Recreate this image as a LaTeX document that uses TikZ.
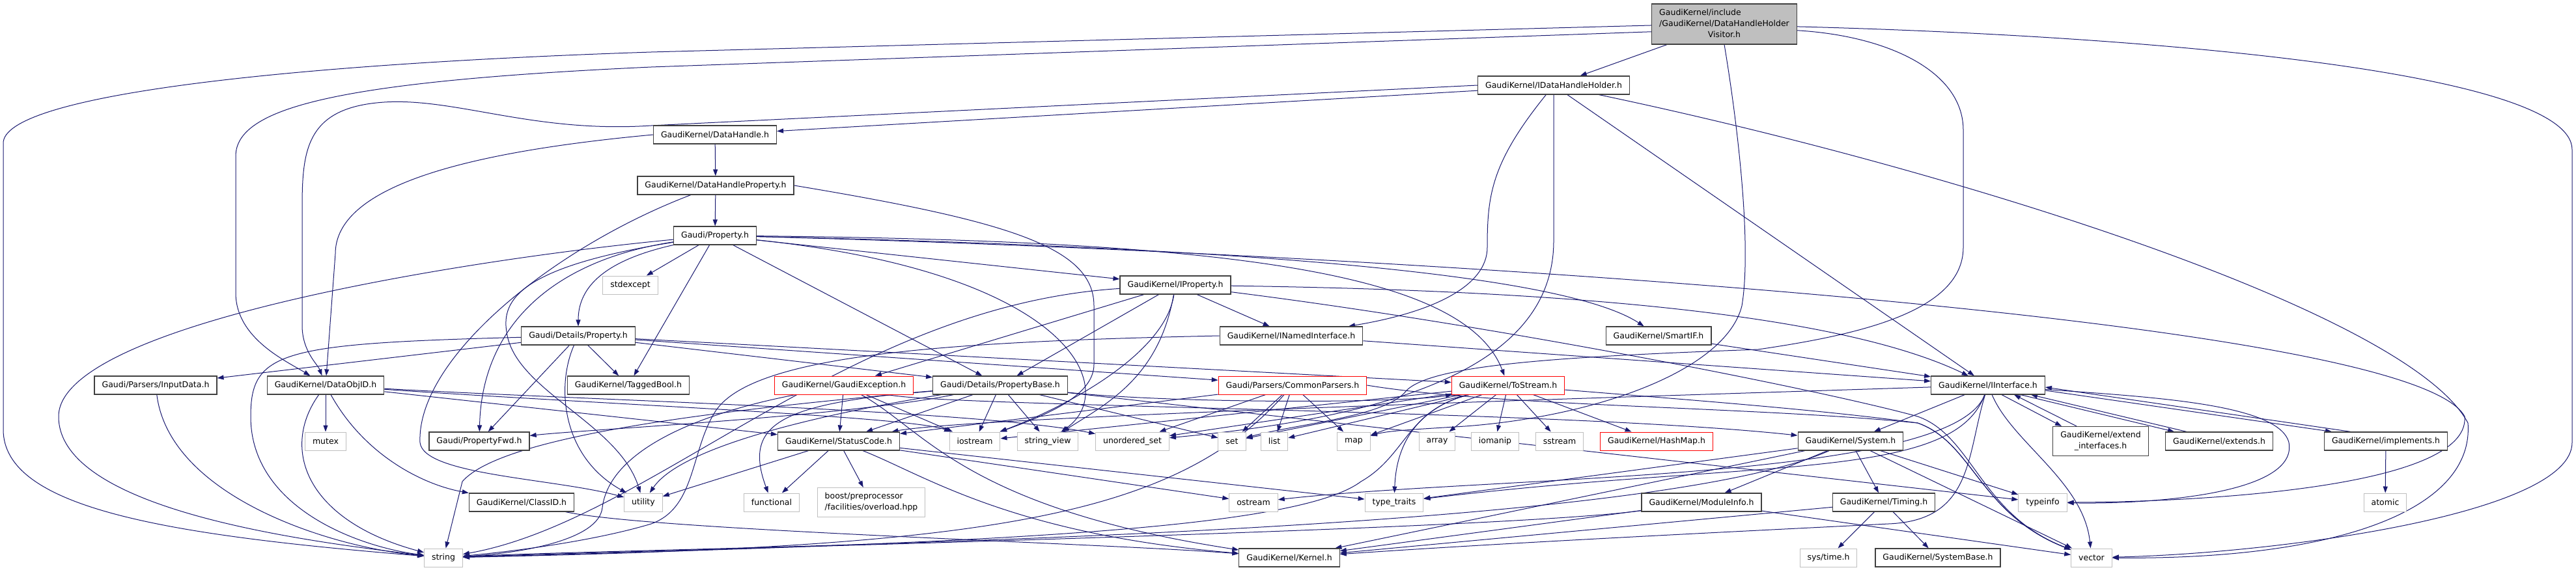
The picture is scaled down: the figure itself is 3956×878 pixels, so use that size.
\documentclass[tikz,border=0pt]{standalone}
\usepackage{fontspec}
\setmainfont{DejaVu Sans}
\usetikzlibrary{arrows.meta}

\definecolor{edgeblue}{HTML}{191970}
\definecolor{boxline}{HTML}{404040}
\definecolor{sysline}{HTML}{BFBFBF}

\pgfdeclarelayer{edges}
\pgfsetlayers{edges,main}

\begin{document}
\begin{tikzpicture}[
    x=1pt, y=-1pt,
    every node/.style={font=\fontsize{12.5pt}{17pt}\selectfont},
    hdr/.style={draw=boxline, fill=white, line width=1.2pt, rectangle, minimum height=28pt, inner xsep=11.5pt, inner ysep=2pt},
    syshdr/.style={hdr, draw=sysline, line width=1pt},
    cuthdr/.style={hdr, draw=red, line width=1pt},
    dep/.style={draw=edgeblue, line width=1pt, -{Triangle[length=10pt, width=7pt]}}
]
    \useasboundingbox (0,0) rectangle (3956,878);

    % Headers
    \node[hdr, fill=sysline, minimum height=62pt] (rt) at (2648,37) {\begin{tabular}{@{}l@{}}GaudiKernel/include\\/GaudiKernel/DataHandleHolder\\\multicolumn{1}{@{}c@{}}{Visitor.h}\end{tabular}};
    \node[hdr] (ihh) at (2386,131) {GaudiKernel/IDataHandleHolder.h};
    \node[hdr] (dh) at (1098,207) {GaudiKernel/DataHandle.h};
    \node[hdr] (dhp) at (1099,285) {GaudiKernel/DataHandleProperty.h};
    \node[hdr] (prop) at (1098,362) {Gaudi/Property.h};
    \node[hdr] (iprop) at (1805,438) {GaudiKernel/IProperty.h};
    \node[syshdr] (stdexc) at (968,438) {stdexcept};
    \node[hdr] (dprop) at (888,516) {Gaudi/Details/Property.h};
    \node[hdr] (inamed) at (1983,516) {GaudiKernel/INamedInterface.h};
    \node[hdr] (smartif) at (2547,516) {GaudiKernel/SmartIF.h};
    \node[hdr] (inpd) at (239,592) {Gaudi/Parsers/InputData.h};
    \node[hdr] (doid) at (500,592) {GaudiKernel/DataObjID.h};
    \node[hdr] (tagb) at (965,592) {GaudiKernel/TaggedBool.h};
    \node[cuthdr] (gexc) at (1296,592) {GaudiKernel/GaudiException.h};
    \node[hdr] (pbase) at (1536,592) {Gaudi/Details/PropertyBase.h};
    \node[cuthdr] (cpars) at (1985,592) {Gaudi/Parsers/CommonParsers.h};
    \node[cuthdr] (tostr) at (2316,592) {GaudiKernel/ToStream.h};
    \node[hdr] (iif) at (3053,592) {GaudiKernel/IInterface.h};
    \node[syshdr] (mutex) at (500,678) {mutex};
    \node[hdr] (pfwd) at (736,678) {Gaudi/PropertyFwd.h};
    \node[hdr] (sc) at (1288,678) {GaudiKernel/StatusCode.h};
    \node[syshdr] (ios) at (1497,678) {iostream};
    \node[syshdr] (sview) at (1609,678) {string\_view};
    \node[syshdr] (uset) at (1739,678) {unordered\_set};
    \node[syshdr] (stdset) at (1892,678) {set};
    \node[syshdr] (stdlist) at (1957,678) {list};
    \node[syshdr] (stdmap) at (2079,678) {map};
    \node[syshdr] (stdarray) at (2207,678) {array};
    \node[syshdr] (iomanip) at (2296,678) {iomanip};
    \node[syshdr] (sstream) at (2395,678) {sstream};
    \node[cuthdr] (hashmap) at (2544,678) {GaudiKernel/HashMap.h};
    \node[hdr] (sys) at (2842,678) {GaudiKernel/System.h};
    \node[hdr, align=center, minimum height=45pt] (extif) at (3226,678) {GaudiKernel/extend\\\_interfaces.h};
    \node[hdr] (extends) at (3408,678) {GaudiKernel/extends.h};
    \node[hdr] (impl) at (3664,678) {GaudiKernel/implements.h};
    \node[hdr] (classid) at (801,772) {GaudiKernel/ClassID.h};
    \node[syshdr] (util) at (988,772) {utility};
    \node[syshdr] (func) at (1185,772) {functional};
    \node[syshdr, align=left, minimum height=45pt] (boost) at (1338,772) {boost/preprocessor\\/facilities/overload.hpp};
    \node[syshdr] (ostream) at (1925,772) {ostream};
    \node[syshdr] (ttraits) at (2141,772) {type\_traits};
    \node[hdr] (modinfo) at (2613,772) {GaudiKernel/ModuleInfo.h};
    \node[hdr] (timing) at (2893,772) {GaudiKernel/Timing.h};
    \node[syshdr] (tinfo) at (3137,772) {typeinfo};
    \node[syshdr] (atomic) at (3663,772) {atomic};
    \node[syshdr] (stdstring) at (681,857) {string};
    \node[hdr] (kern) at (1980,857) {GaudiKernel/Kernel.h};
    \node[syshdr] (systime) at (2808,857) {sys/time.h};
    \node[hdr] (sysbase) at (2976,857) {GaudiKernel/SystemBase.h};
    \node[syshdr] (stdvector) at (3212,857) {vector};

    \begin{pgfonlayer}{edges}
    % Visitor header
    \draw[dep] (rt) -- (ihh);
    \draw[dep] (rt.181) -- (1000,80) .. controls (400,100) and (5,150) .. (5,220) -- (5,660) .. controls (5,780) and (250,822) .. (stdstring);
    \draw[dep] (rt.186) -- (1000,103) .. controls (520,125) and (362,165) .. (362,240) -- (362,450) .. controls (362,520) and (440,555) .. (doid);
    \draw[dep] (rt.358) .. controls (3300,55) and (3950,110) .. (3950,230) -- (3950,680) .. controls (3950,790) and (3500,850) .. (stdvector);
    \draw[dep] (rt.355) .. controls (2900,55) and (3015,110) .. (3015,200) -- (3015,380) .. controls (3015,480) and (2850,515) .. (2700,537) .. controls (2400,548) and (2200,560) .. (2160,600) .. controls (2130,640) and (2000,650) .. (stdset);
    \draw[dep] (rt.south) .. controls (2670,200) and (2690,380) .. (2675,470) .. controls (2650,570) and (2450,640) .. (2250,655) .. controls (2170,660) and (2130,662) .. (stdmap);

    % IDataHandleHolder
    \draw[dep] (ihh.184) -- (dh);
    \draw[dep] (ihh.west) -- (1000,193) .. controls (820,205) and (700,150) .. (590,157) .. controls (470,165) and (464,230) .. (464,320) -- (464,500) .. controls (464,540) and (488,560) .. (doid);
    \draw[dep] (ihh) -- (iif);
    \draw[dep] (ihh) .. controls (2290,250) and (2284,300) .. (2284,380) .. controls (2284,440) and (2200,480) .. (inamed);
    \draw[dep] (ihh.south) -- (2386,370) .. controls (2386,560) and (2150,640) .. (uset);
    \draw[dep] (ihh) .. controls (3000,260) and (3700,480) .. (3790,650) .. controls (3800,780) and (3600,860) .. (stdvector);

    % DataHandle and its property
    \draw[dep] (dh) -- (dhp);
    \draw[dep] (dh.west) .. controls (700,235) and (515,290) .. (515,390) -- (doid);
    \draw[dep] (dhp) -- (prop);
    \draw[dep] (dhp.east) .. controls (1550,340) and (1680,380) .. (1680,470) -- (1680,560) .. controls (1680,610) and (1600,640) .. (ios);
    \draw[dep] (dhp) .. controls (850,380) and (640,550) .. (645,680) .. controls (650,730) and (850,735) .. (util);

    % Gaudi/Property.h
    \foreach \dst in {stdexc, tagb, pbase, iprop} \draw[dep] (prop) -- (\dst);
    \draw[dep] (prop) .. controls (930,400) and (888,440) .. (dprop);
    \draw[dep] (prop) .. controls (700,400) and (90,500) .. (90,640) .. controls (90,780) and (450,830) .. (stdstring);
    \draw[dep] (prop) .. controls (850,400) and (740,500) .. (pfwd);
    \draw[dep] (prop) .. controls (800,410) and (770,460) .. (778,510) .. controls (790,600) and (950,650) .. (util);
    \draw[dep] (prop) .. controls (1650,420) and (1720,600) .. (sview);
    \draw[dep] (prop) .. controls (1900,370) and (2250,420) .. (tostr);
    \draw[dep] (prop) .. controls (1900,380) and (2400,420) .. (smartif);
    \draw[dep] (prop) .. controls (2000,385) and (3700,480) .. (3785,640) .. controls (3795,760) and (3300,772) .. (tinfo);

    % Gaudi/Details/Property.h
    \foreach \dst in {inpd, pfwd, tagb, cpars, pbase, tostr} \draw[dep] (dprop) -- (\dst);
    \draw[dep] (dprop) .. controls (855,590) and (860,700) .. (util);
    \draw[dep] (dprop) .. controls (430,528) and (385,540) .. (385,640) .. controls (385,780) and (550,840) .. (stdstring);

    % InputData, DataObjID, ClassID
    \draw[dep] (inpd) .. controls (260,760) and (500,840) .. (stdstring);
    \foreach \dst in {mutex, sc} \draw[dep] (doid) -- (\dst);
    \draw[dep] (doid) .. controls (900,620) and (1400,640) .. (ios);
    \draw[dep] (doid) .. controls (900,615) and (1500,630) .. (uset);
    \draw[dep] (doid) .. controls (430,690) and (470,800) .. (stdstring);
    \draw[dep] (doid) .. controls (560,700) and (650,745) .. (classid);
    \draw[dep] (classid) .. controls (1000,815) and (1700,835) .. (kern);

    % GaudiException
    \foreach \dst in {sc, ios} \draw[dep] (gexc) -- (\dst);
    \draw[dep] (gexc) .. controls (1450,625) and (2400,630) .. (sys);
    \draw[dep] (gexc) .. controls (1420,660) and (1480,780) .. (kern);
    \draw[dep] (gexc) .. controls (1050,640) and (935,700) .. (925,780) .. controls (920,830) and (800,850) .. (stdstring);

    % PropertyBase
    \foreach \dst in {sc, ios, sview, stdset, tinfo} \draw[dep] (pbase) -- (\dst);
    \draw[dep] (pbase) .. controls (1300,640) and (900,660) .. (pfwd);
    \draw[dep] (pbase) .. controls (1800,620) and (2150,620) .. (tostr);
    \draw[dep] (pbase) .. controls (1300,630) and (1050,680) .. (util);
    \draw[dep] (pbase) .. controls (1200,620) and (1140,650) .. (func);
    \draw[dep] (pbase) .. controls (1100,630) and (770,670) .. (710,740) -- (stdstring);

    % IProperty
    \foreach \dst in {gexc, pbase, inamed} \draw[dep] (iprop) -- (\dst);
    \draw[dep] (iprop) .. controls (2300,445) and (2800,470) .. (iif);
    \draw[dep] (iprop) .. controls (2300,500) and (2800,600) .. (2945,640) .. controls (3030,670) and (3040,790) .. (stdvector);
    \draw[dep] (iprop) .. controls (1300,470) and (1000,800) .. (stdstring);
    \draw[dep] (iprop) .. controls (1790,540) and (1650,620) .. (ios);
    \draw[dep] (iprop) .. controls (1780,580) and (1700,620) .. (sview);

    % INamedInterface and SmartIF
    \draw[dep] (inamed) -- (iif);
    \draw[dep] (inamed.west) .. controls (1450,525) and (1160,545) .. (1100,630) .. controls (1060,690) and (1070,780) .. (1000,805) .. controls (900,835) and (760,850) .. (stdstring);
    \draw[dep] (smartif) -- (iif);

    % CommonParsers
    \foreach \dst in {uset, stdset, stdlist, stdmap, sc} \draw[dep] (cpars) -- (\dst);
    \draw[dep] (cpars.east) .. controls (2300,625) and (2700,625) .. (2945,650) .. controls (3030,680) and (3040,790) .. (stdvector);
    \draw[dep] (cpars) .. controls (1800,800) and (1500,840) .. (stdstring);

    % ToStream
    \foreach \dst in {stdarray, iomanip, sstream, hashmap, stdmap, ios, stdlist, stdset, uset} \draw[dep] (tostr) -- (\dst);
    \draw[dep] (tostr) .. controls (2200,620) and (2145,660) .. (ttraits);
    \draw[dep] (tostr) .. controls (2600,615) and (2800,630) .. (2945,650) .. controls (3030,680) and (3040,790) .. (stdvector);
    \draw[dep] (tostr) .. controls (2160,630) and (2160,700) .. (2090,740) .. controls (1990,815) and (1500,835) .. (stdstring);

    % IInterface
    \draw[dep] (iif) -- (sys);
    \draw[dep] (iif) .. controls (2500,610) and (1500,640) .. (sc);
    \draw[dep] (iif) .. controls (3000,740) and (2300,730) .. (ostream);
    \draw[dep] (iif) .. controls (3000,740) and (2700,705) .. (ttraits);
    \draw[dep] (iif) .. controls (3090,680) and (3200,740) .. (stdvector);
    \draw[dep] (iif) .. controls (3020,700) and (3030,800) .. (2900,805) .. controls (2600,820) and (2300,835) .. (kern);
    \draw[dep] (iif) .. controls (3300,610) and (3500,620) .. (3515,680) .. controls (3530,760) and (3300,775) .. (tinfo);
    \draw[dep] ([xshift=21pt]iif.south) -- ([xshift=-60pt]extif.north);
    \draw[dep] ([xshift=-37pt]extif.north) -- ([xshift=40pt]iif.south);
    \draw[dep] ([xshift=50pt]iif.south) -- ([xshift=-69pt]extends.north);
    \draw[dep] ([xshift=-50pt]extends.north) -- ([xshift=66pt]iif.south);
    \draw[dep] ([yshift=-8pt]iif.east) -- ([xshift=-83pt]impl.north);
    \draw[dep] ([xshift=-54pt]impl.north) -- ([yshift=-3pt]iif.east);
    \draw[dep] (impl) -- (atomic);

    % System, ModuleInfo, Timing
    \foreach \dst in {kern, modinfo, timing, tinfo, stdvector, ttraits} \draw[dep] (sys) -- (\dst);
    \draw[dep] (sys) .. controls (2500,830) and (1000,840) .. (stdstring);
    \foreach \dst in {kern, stdvector} \draw[dep] (modinfo) -- (\dst);
    \draw[dep] (modinfo) .. controls (2300,815) and (1000,845) .. (stdstring);
    \foreach \dst in {kern, systime, sysbase} \draw[dep] (timing) -- (\dst);

    % StatusCode
    \foreach \dst in {util, func, boost, ostream, ttraits} \draw[dep] (sc) -- (\dst);
    \draw[dep] (sc) .. controls (1420,730) and (1550,820) .. (kern);
    \end{pgfonlayer}

\end{tikzpicture}
\end{document}
